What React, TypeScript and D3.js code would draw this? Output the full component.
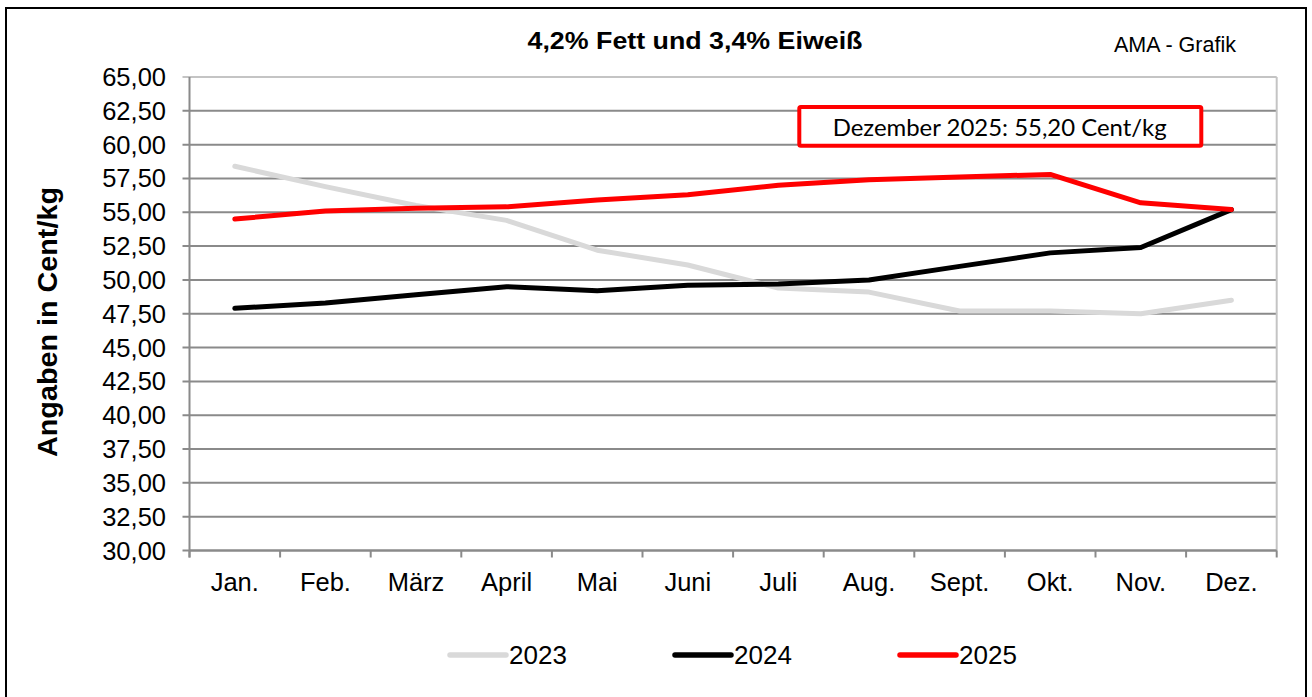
import React from "react";
import * as d3 from "d3";

const months = ["Jan.", "Feb.", "März", "April", "Mai", "Juni", "Juli", "Aug.", "Sept.", "Okt.", "Nov.", "Dez."];
const values2023 = [58.4, 56.9, 55.5, 54.4, 52.2, 51.1, 49.4, 49.1, 47.7, 47.7, 47.5, 48.5];
const values2024 = [47.9, 48.3, 48.9, 49.5, 49.2, 49.6, 49.7, 50.0, 51.0, 52.0, 52.4, 55.2];
const values2025 = [54.5, 55.1, 55.3, 55.4, 55.9, 56.3, 57.0, 57.4, 57.6, 57.8, 55.7, 55.2];
const yTicks = [30, 32.5, 35, 37.5, 40, 42.5, 45, 47.5, 50, 52.5, 55, 57.5, 60, 62.5, 65];

const seriesList = [
  { name: "2023", values: values2023, color: "#d9d9d9" },
  { name: "2024", values: values2024, color: "#000000" },
  { name: "2025", values: values2025, color: "#ff0000" },
];

const W = 1312;
const H = 697;
const plot = { left: 189.5, right: 1276.7, top: 77, bottom: 550.5 };
const FONT = "'Liberation Sans', Arial, sans-serif";

export default function App() {
  const x = d3.scaleBand<string>().domain(months).range([plot.left, plot.right]).padding(0);
  const y = d3.scaleLinear().domain([30, 65]).range([plot.bottom, plot.top]);
  const cx = (m: string) => (x(m) as number) + x.bandwidth() / 2;
  const line = d3
    .line<number>()
    .x((_, i) => cx(months[i]))
    .y((v) => y(v))
    .curve(d3.curveLinear);
  const fmt = (v: number) => v.toFixed(2).replace(".", ",");
  const boundaries = [...months.map((m) => x(m) as number), plot.right];
  const legendX = [450, 675, 900];

  return (
    <svg
      width={W}
      height={H}
      style={{ position: "absolute", left: 0, top: 0, background: "#fff" }}
      fontFamily={FONT}
    >
      <rect x={0} y={0} width={W} height={H} fill="#fff" />
      <rect x={6} y={8} width={1300} height={700} fill="none" stroke="#000" strokeWidth={2} />

      {/* gridlines */}
      {yTicks.map((t) => (
        <line
          key={"g" + t}
          x1={plot.left - 7}
          x2={plot.right}
          y1={y(t)}
          y2={y(t)}
          stroke={t === 65 ? "#c4c4c4" : "#8a8a8a"}
          strokeWidth={2}
        />
      ))}
      {/* right border */}
      <line x1={plot.right} x2={plot.right} y1={plot.top} y2={plot.bottom} stroke="#c4c4c4" strokeWidth={2} />
      {/* y axis */}
      <line x1={plot.left} x2={plot.left} y1={plot.top} y2={plot.bottom + 7} stroke="#8a8a8a" strokeWidth={2} />
      {/* x axis */}
      <line x1={plot.left} x2={plot.right} y1={plot.bottom} y2={plot.bottom} stroke="#8a8a8a" strokeWidth={2} />
      {boundaries.map((b, i) => (
        <line key={"xt" + i} x1={b} x2={b} y1={plot.bottom} y2={plot.bottom + 7} stroke="#8a8a8a" strokeWidth={2} />
      ))}

      {/* y labels */}
      {yTicks.map((t) => (
        <text key={"yl" + t} x={166} y={y(t) + 9} textAnchor="end" fontSize={25.5} fill="#000">
          {fmt(t)}
        </text>
      ))}
      {/* x labels */}
      {months.map((m) => (
        <text key={"xl" + m} x={cx(m)} y={591} textAnchor="middle" fontSize={25.5} fill="#000">
          {m}
        </text>
      ))}

      {/* lines */}
      {seriesList.map((s) => (
        <path
          key={s.name}
          d={line(s.values) || ""}
          fill="none"
          stroke={s.color}
          strokeWidth={5}
          strokeLinejoin="round"
          strokeLinecap="round"
        />
      ))}

      {/* annotation */}
      <rect x={799.3} y={107} width={402} height={38.7} fill="#fff" stroke="#ff0000" strokeWidth={4} rx={1.5} />
      <text
        x={999.7}
        y={136}
        textAnchor="middle"
        fontSize={23}
        fontFamily="Lato, 'Open Sans', sans-serif"
        fill="#000"
        textLength={334}
        lengthAdjust="spacingAndGlyphs"
      >
        Dezember 2025: 55,20 Cent/kg
      </text>

      {/* title */}
      <text
        x={695}
        y={49.3}
        textAnchor="middle"
        fontSize={23}
        fontWeight="bold"
        fill="#000"
        textLength={335}
        lengthAdjust="spacingAndGlyphs"
      >
        4,2% Fett und 3,4% Eiweiß
      </text>
      <text x={1114} y={51.5} fontSize={21.5} fill="#000" textLength={122} lengthAdjust="spacingAndGlyphs">
        AMA - Grafik
      </text>

      {/* y title */}
      <text
        transform={`translate(57, 322) rotate(-90)`}
        textAnchor="middle"
        fontSize={27}
        fontWeight="bold"
        fill="#000"
        textLength={270}
        lengthAdjust="spacingAndGlyphs"
      >
        Angaben in Cent/kg
      </text>

      {/* legend */}
      {seriesList.map((s, i) => (
        <g key={"lg" + s.name}>
          <line
            x1={legendX[i]}
            x2={legendX[i] + 56}
            y1={655}
            y2={655}
            stroke={s.color}
            strokeWidth={5.5}
            strokeLinecap="round"
          />
          <text x={legendX[i] + 59} y={664} fontSize={26} fill="#000">
            {s.name}
          </text>
        </g>
      ))}
    </svg>
  );
}
